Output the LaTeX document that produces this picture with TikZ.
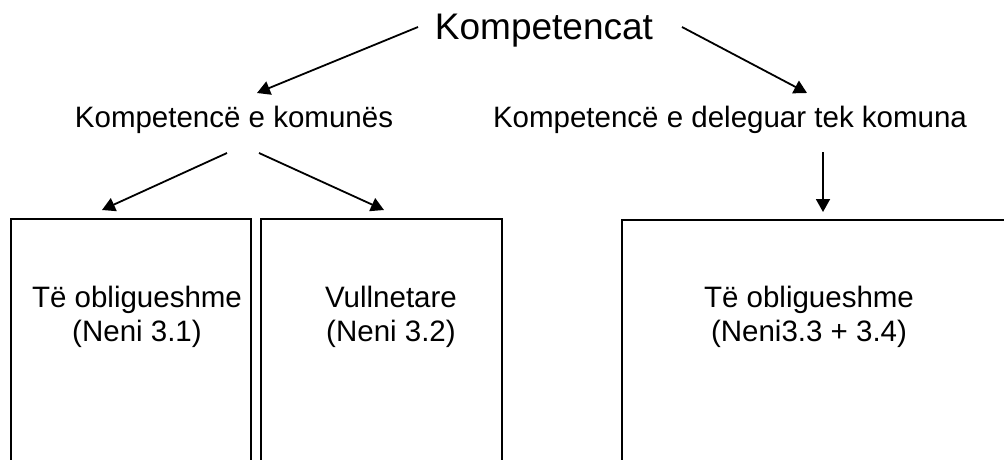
\documentclass[tikz,border=0pt]{standalone}
\usepackage{fontspec}
\setmainfont{Liberation Sans}
\usetikzlibrary{arrows.meta}
\begin{document}
\begin{tikzpicture}[x=1pt,y=-1pt,
  lbl/.style={inner sep=0pt, font=\fontsize{29.5}{34}\selectfont},
  toplbl/.style={inner sep=0pt, font=\fontsize{37}{44}\selectfont},
  boxtext/.style={inner sep=0pt, align=center, anchor=north, font=\fontsize{29.5}{34}\selectfont},
  openbox/.style={draw, line width=1.8pt, inner sep=0pt, outer sep=0pt, anchor=north west, minimum height=300pt},
  conn/.style={line width=1.8pt, -{Triangle[length=13pt,width=14pt]}}]
\useasboundingbox (0,0) rectangle (1004,459);
\clip (0,0) rectangle (1004,459);

% labels
\node[toplbl, anchor=base] (top) at (544,39) {Kompetencat};
\node[lbl, anchor=base] (kk) at (234,127) {Kompetencë e komunës};
\node[lbl, anchor=base] (kd) at (730,127) {Kompetencë e deleguar tek komuna};

% open boxes (bottom cut off by the page)
\node[openbox, minimum width=240pt] (b1) at (11,219) {};
\node[openbox, minimum width=241pt] (b2) at (261,219) {};
\node[openbox, minimum width=500pt] (b3) at (622,220) {};

\node[boxtext] (t1) at (137,285.5) {Të obligueshme\\(Neni 3.1)};
\node[boxtext] (t2) at (391,285.5) {Vullnetare\\(Neni 3.2)};
\node[boxtext] (t3) at (809,285.5) {Të obligueshme\\(Neni3.3 + 3.4)};

% connector ends
\coordinate (a1s) at (418,27);
\coordinate (a1e) at (257,93);
\coordinate (a2s) at (682,27);
\coordinate (a2e) at (807,93);
\coordinate (a3s) at (227,153);
\coordinate (a3e) at (102,210);
\coordinate (a4s) at (259,153);
\coordinate (a4e) at (384,210);
\coordinate (a5s) at (823,152);
\coordinate (a5e) at (823,212);

\draw[conn] (a1s) -- (a1e);
\draw[conn] (a2s) -- (a2e);
\draw[conn] (a3s) -- (a3e);
\draw[conn] (a4s) -- (a4e);
\draw[conn] (a5s) -- (a5e);
\end{tikzpicture}
\end{document}
